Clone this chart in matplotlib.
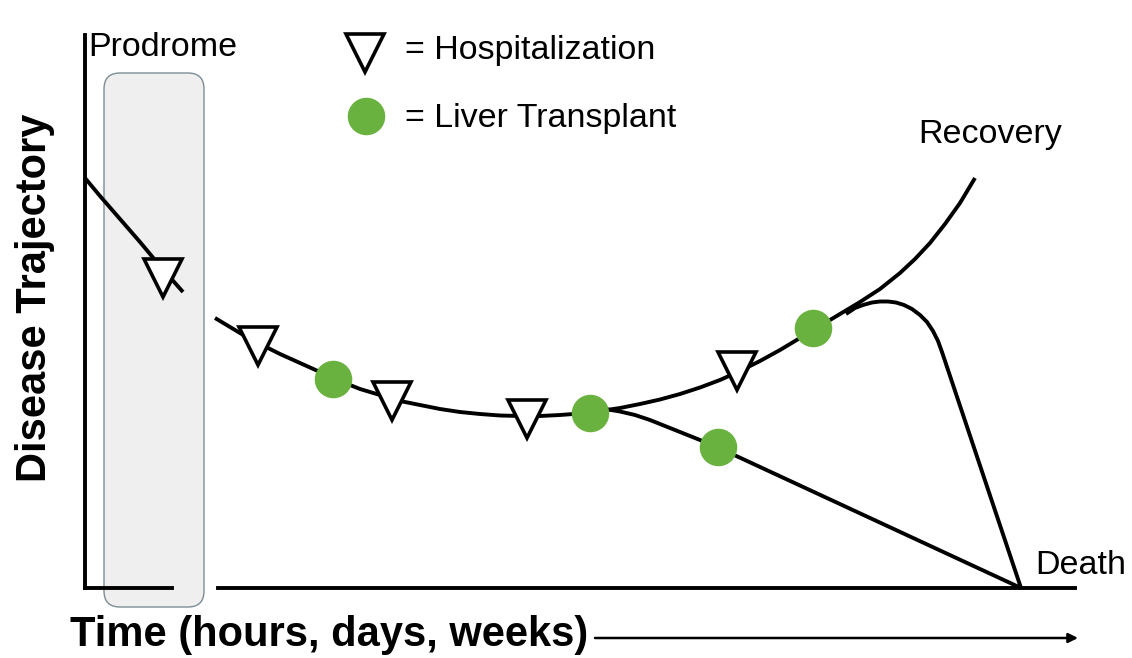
import matplotlib.pyplot as plt
from matplotlib.patches import FancyBboxPatch

plt.rcParams['font.family'] = ['Liberation Sans', 'DejaVu Sans']

# schematic drawn in picture units: x to the right, y downwards (1132 x 658)
W, H = 1132, 658

# trajectory during the prodrome
prodrome_x = [85, 100, 120, 140, 160, 183]
prodrome_y = [178, 196, 219, 242, 266, 292]

# main course (towards recovery)
main_x = [215, 230, 245, 260, 280, 300, 320, 340, 360, 380, 400, 420, 440, 460,
          480, 500, 520, 540, 560, 580, 600, 620, 640, 660, 680, 700, 720, 740,
          760, 780, 800, 820, 840, 860, 880, 900, 915, 930, 945, 960, 975]
main_y = [318, 327, 336, 344, 354, 363, 372, 381, 389, 395, 401, 405, 409, 412,
          414, 415.5, 416, 416, 415, 413.5, 411, 408, 404, 399.5, 394, 387.5, 380, 371,
          361, 350, 338, 326, 314, 302, 289, 273, 259, 243, 224, 203, 178]

# branch: slow decline to death
decline_x = [605, 620, 635, 650, 665, 680, 700, 718, 1021]
decline_y = [409, 411.5, 415, 420, 426, 432, 440, 447.5, 588]

# branch: late deterioration to death
late_x = [846, 855, 863, 872, 880, 888, 896, 904, 912, 920, 927, 933, 938, 942, 1021]
late_y = [314, 308, 305, 302.5, 301.5, 301.5, 302.5, 305, 309, 315, 322, 331, 341, 352, 588]

# events
hosp_x = [163, 258, 392, 527, 737]
hosp_y = [278, 346, 401, 419, 371]
lt_x = [333, 590, 813, 718]
lt_y = [379, 413, 328, 447]

GREEN = '#6ab23f'
LW = 2.8


def main():
    fig = plt.figure(figsize=(W / 100, H / 100), dpi=100)
    ax = fig.add_axes([0, 0, 1, 1])
    ax.set_xlim(0, W)
    ax.set_ylim(H, 0)
    ax.axis('off')

    # prodrome box
    box = FancyBboxPatch((104, 73), 100, 534, boxstyle='round,pad=0,rounding_size=16',
                         facecolor='#efefef', edgecolor='#7d8c96', linewidth=1.0, zorder=1)
    ax.add_patch(box)
    ax.text(88, 48, 'Prodrome', fontsize=24.5, ha='left', va='center')

    # axes lines
    ax.plot([85, 85], [35, 588], color='black', lw=LW, zorder=2)
    ax.plot([85, 172], [588, 588], color='black', lw=LW, zorder=2)
    ax.plot([218, 1075], [588, 588], color='black', lw=LW, zorder=2)

    # curves
    kw = dict(color='black', lw=LW, solid_joinstyle='round', solid_capstyle='butt', zorder=3)
    ax.plot(prodrome_x, prodrome_y, **kw)
    ax.plot(main_x, main_y, **kw)
    ax.plot(decline_x, decline_y, **kw)
    ax.plot(late_x, late_y, **kw)

    # markers
    ax.plot(hosp_x, hosp_y, 'v', ms=27, mfc='white', mec='black', mew=2.6, ls='none', zorder=4)
    ax.plot(lt_x, lt_y, 'o', ms=26, mfc=GREEN, mec=GREEN, ls='none', zorder=4)

    # legend
    ax.plot([365], [53], 'v', ms=27, mfc='white', mec='black', mew=2.6)
    ax.plot([366], [116], 'o', ms=26, mfc=GREEN, mec=GREEN)
    ax.text(405, 50, '= Hospitalization', fontsize=24.5, ha='left', va='center')
    ax.text(405, 118, '= Liver Transplant', fontsize=24.5, ha='left', va='center')

    # outcome labels
    ax.text(918, 135, 'Recovery', fontsize=24.5, ha='left', va='center')
    ax.text(1035, 565, 'Death', fontsize=24.5, ha='left', va='center')

    # axis titles
    ax.text(35, 298, 'Disease Trajectory', fontsize=30, fontweight='bold',
            rotation=90, ha='center', va='center')
    ax.text(70, 635, 'Time (hours, days, weeks)', fontsize=30, fontweight='bold',
            ha='left', va='center')
    ax.annotate('', xy=(1078, 638), xytext=(595, 638),
                arrowprops=dict(arrowstyle='-|>', color='black', lw=1.8,
                                mutation_scale=14, shrinkA=0, shrinkB=0))

    plt.savefig('out.png', dpi=100, facecolor='white')


if __name__ == '__main__':
    main()
